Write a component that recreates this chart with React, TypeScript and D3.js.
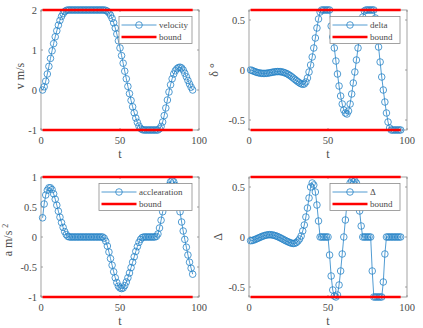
import React from "react";
import * as d3 from "d3";

// ---------- data ----------
const xTicks = [0, 50, 100];

const velocity = [
  0, 0.08, 0.22, 0.4, 0.59, 0.79, 0.98, 1.16, 1.33, 1.48, 1.62, 1.74, 1.84, 1.91, 1.96, 1.99,
  2, 2, 2, 2, 2, 2, 2, 2, 2, 2, 2, 2, 2, 2, 2, 2, 2, 2, 2, 2, 2, 2, 2, 2,
  1.99, 1.97, 1.93, 1.87, 1.79, 1.68, 1.55, 1.4, 1.23, 1.05, 0.86, 0.67, 0.47, 0.28, 0.09,
  -0.09, -0.26, -0.42, -0.57, -0.7, -0.81, -0.9, -0.96, -0.99,
  -1, -1, -1, -1, -1, -1, -1, -1, -1, -1,
  -0.97, -0.91, -0.8, -0.64, -0.45, -0.25, -0.05, 0.13, 0.28, 0.4, 0.48, 0.53, 0.56, 0.57,
  0.55, 0.5, 0.42, 0.33, 0.24, 0.15, 0.07, 0.0,
];
const vTicks = [-1, 0, 1, 2];
const vBound = [2, -1];

const delta = [
  0, -0.005, -0.012, -0.018, -0.024, -0.028, -0.031, -0.033, -0.034, -0.034, -0.033, -0.031,
  -0.028, -0.025, -0.022, -0.019, -0.017, -0.016, -0.016, -0.017, -0.02, -0.024, -0.03,
  -0.037, -0.046, -0.056, -0.068, -0.08, -0.093, -0.106, -0.118, -0.129, -0.138, -0.143,
  -0.14, -0.12, -0.08, -0.02, 0.05, 0.13, 0.22, 0.32, 0.42, 0.51, 0.58,
  0.6, 0.6, 0.6, 0.6, 0.6, 0.6,
  0.44, 0.33, 0.22, 0.09, -0.04, -0.16, -0.26, -0.34, -0.4, -0.43, -0.44, -0.41, -0.34,
  -0.24, -0.13, -0.02, 0.1, 0.22, 0.33, 0.44, 0.53, 0.59,
  0.6, 0.6, 0.6, 0.6, 0.6, 0.6,
  0.52, 0.38, 0.23, 0.08, -0.07, -0.2, -0.32, -0.43, -0.52, -0.58,
  -0.6, -0.6, -0.6, -0.6, -0.6, -0.6, -0.6,
];
const deltaTicks = [-0.5, 0, 0.5];
const deltaBound = [0.6, -0.6];

const accel = [
  0.32, 0.55, 0.7, 0.78, 0.82, 0.82, 0.79, 0.72, 0.63, 0.53, 0.43, 0.33, 0.24, 0.16, 0.09, 0.04, 0.01,
  0, 0, 0, 0, 0, 0, 0, 0, 0, 0, 0, 0, 0, 0, 0, 0, 0, 0, 0, 0, 0, 0,
  -0.02, -0.07, -0.15, -0.25, -0.36, -0.47, -0.58, -0.68, -0.76, -0.82, -0.85, -0.86, -0.85,
  -0.81, -0.75, -0.68, -0.6, -0.51, -0.42, -0.33, -0.24, -0.16, -0.09, -0.04, -0.01,
  0, 0, 0, 0, 0, 0, 0, 0,
  0.01, 0.05, 0.15, 0.28, 0.42, 0.55, 0.67, 0.78, 0.86, 0.92, 0.94, 0.92, 0.86, 0.75, 0.6,
  0.42, 0.25, 0.1, -0.04, -0.17, -0.3, -0.42, -0.52, -0.62,
];
const aTicks = [-1, -0.5, 0, 0.5, 1];
const aBound = [1, -1];

const bigDelta = [
  -0.037, -0.035, -0.03, -0.024, -0.017, -0.01, -0.003, 0.004, 0.01, 0.015, 0.019, 0.022, 0.023,
  0.022, 0.02, 0.016, 0.011, 0.005, -0.002, -0.01, -0.018, -0.027, -0.035, -0.043, -0.05,
  -0.057, -0.062, -0.065, -0.063, -0.055, -0.04, -0.02, 0.01, 0.06, 0.12, 0.2, 0.29, 0.39,
  0.5, 0.54, 0.52, 0.45, 0.32, 0.16,
  0, 0, 0, 0, 0, 0,
  -0.18, -0.39, -0.53, -0.59, -0.6, -0.58, -0.48, -0.34, -0.17,
  0, 0.17, 0.33, 0.46, 0.54, 0.56, 0.55, 0.56, 0.54, 0.42, 0.26, 0.11,
  0, 0, 0, 0, 0, 0,
  -0.34, -0.6, -0.6, -0.6, -0.6, -0.6, -0.6, -0.45, -0.17,
  0, 0, 0, 0, 0, 0, 0, 0, 0, 0,
];
const bigDeltaTicks = [-0.5, 0, 0.5];
const bigDeltaBound = [0.6, -0.6];

// ---------- styles ----------
const FONT = "'Liberation Serif', 'Times New Roman', serif";
const BLUE = "#2683c6";
const RED = "#ff0000";
const AXIS = "#8c8c8c";
const TEXT = "#4a4a4a";

type PanelProps = {
  left: number;
  top: number;
  width: number;
  height: number;
  yDomain: [number, number];
  yTicks: number[];
  values: number[];
  bound: number[];
  yLabel: React.ReactNode;
  yLabelX: number;
  yLabelY: number;
  name: string;
  legendW: number;
};

function Panel(p: PanelProps) {
  const x = d3.scaleLinear().domain([0, 100]).range([p.left, p.left + p.width]);
  const y = d3.scaleLinear().domain(p.yDomain).range([p.top + p.height, p.top]);
  const pts = p.values.map((v, i) => [i + 1, v] as [number, number]);
  const line = d3
    .line<[number, number]>()
    .x((d) => x(d[0]))
    .y((d) => y(d[1]));
  const bStart = 1;
  const bEnd = p.values.length;
  const right = p.left + p.width;
  const bottom = p.top + p.height;
  const tl = 2;

  // legend
  const lgRight = right - 7;
  const lgTop = p.top + 6.5;
  const lgH = 27;
  const lgLeft = lgRight - p.legendW;
  const row1 = lgTop + 8.5;
  const row2 = lgTop + 20.5;
  const sx1 = lgLeft + 2.5;
  const sx2 = sx1 + 35;

  return (
    <g>
      <rect x={p.left} y={p.top} width={p.width} height={p.height} fill="white" stroke={AXIS} strokeWidth={0.8} />
      {xTicks.map((t) => (
        <g key={"x" + t}>
          <line x1={x(t)} x2={x(t)} y1={bottom} y2={bottom - tl} stroke={AXIS} strokeWidth={0.8} />
          <line x1={x(t)} x2={x(t)} y1={p.top} y2={p.top + tl} stroke={AXIS} strokeWidth={0.8} />
          <text x={x(t)} y={bottom + 14} textAnchor="middle" fontFamily={FONT} fontSize={10.5} fill={TEXT}>
            {t}
          </text>
        </g>
      ))}
      {p.yTicks.map((t) => (
        <g key={"y" + t}>
          <line x1={p.left} x2={p.left + tl} y1={y(t)} y2={y(t)} stroke={AXIS} strokeWidth={0.8} />
          <line x1={right} x2={right - tl} y1={y(t)} y2={y(t)} stroke={AXIS} strokeWidth={0.8} />
          <text x={p.left - 4} y={y(t) + 3.6} textAnchor="end" fontFamily={FONT} fontSize={10.5} fill={TEXT}>
            {String(t)}
          </text>
        </g>
      ))}
      <text x={(p.left + right) / 2} y={bottom + 28} textAnchor="middle" fontFamily={FONT} fontSize={12} fill={TEXT}>
        t
      </text>
      <text
        transform={`translate(${p.yLabelX},${p.yLabelY}) rotate(-90)`}
        textAnchor="middle"
        fontFamily={FONT}
        fontSize={12}
        fill={TEXT}
      >
        {p.yLabel}
      </text>
      <path d={line(pts) || ""} fill="none" stroke={BLUE} strokeWidth={0.8} />
      {pts.map((d, i) => (
        <circle key={i} cx={x(d[0])} cy={y(d[1])} r={3.3} fill="none" stroke={BLUE} strokeWidth={0.8} />
      ))}
      {p.bound.map((b, i) => (
        <line key={"b" + i} x1={x(bStart)} x2={x(bEnd)} y1={y(b)} y2={y(b)} stroke={RED} strokeWidth={2.5} />
      ))}
      <rect x={lgLeft} y={lgTop} width={p.legendW} height={lgH} fill="white" stroke={AXIS} strokeWidth={0.8} />
      <line x1={sx1} x2={sx2} y1={row1} y2={row1} stroke={BLUE} strokeWidth={0.8} />
      <circle cx={(sx1 + sx2) / 2} cy={row1} r={3.3} fill="none" stroke={BLUE} strokeWidth={0.8} />
      <line x1={sx1} x2={sx2} y1={row2} y2={row2} stroke={RED} strokeWidth={2.5} />
      <text x={sx2 + 2.5} y={row1 + 3} fontFamily={FONT} fontSize={9} fill={TEXT}>
        {p.name}
      </text>
      <text x={sx2 + 2.5} y={row2 + 3} fontFamily={FONT} fontSize={9} fill={TEXT}>
        bound
      </text>
    </g>
  );
}

export default function App() {
  return (
    <svg
      width={423}
      height={328}
      style={{ position: "absolute", left: 0, top: 0, background: "white" }}
    >
      <Panel
        left={41}
        top={10}
        width={158}
        height={120}
        yDomain={[-1, 2]}
        yTicks={vTicks}
        values={velocity}
        bound={vBound}
        yLabel="v m/s"
        yLabelX={24}
        yLabelY={76}
        name="velocity"
        legendW={73}
      />
      <Panel
        left={249}
        top={10}
        width={158}
        height={120}
        yDomain={[-0.6, 0.6]}
        yTicks={deltaTicks}
        values={delta}
        bound={deltaBound}
        yLabel="δ °"
        yLabelX={218}
        yLabelY={70}
        name="delta"
        legendW={70}
      />
      <Panel
        left={41}
        top={177}
        width={158}
        height={120}
        yDomain={[-1, 1]}
        yTicks={aTicks}
        values={accel}
        bound={aBound}
        yLabel={
          <>
            a m/s <tspan dy={-4} fontSize={8}>2</tspan>
          </>
        }
        yLabelX={12}
        yLabelY={240}
        name="acclearation"
        legendW={93}
      />
      <Panel
        left={249}
        top={177}
        width={158}
        height={120}
        yDomain={[-0.6, 0.6]}
        yTicks={bigDeltaTicks}
        values={bigDelta}
        bound={bigDeltaBound}
        yLabel="Δ"
        yLabelX={222}
        yLabelY={237}
        name="Δ"
        legendW={70}
      />
    </svg>
  );
}
